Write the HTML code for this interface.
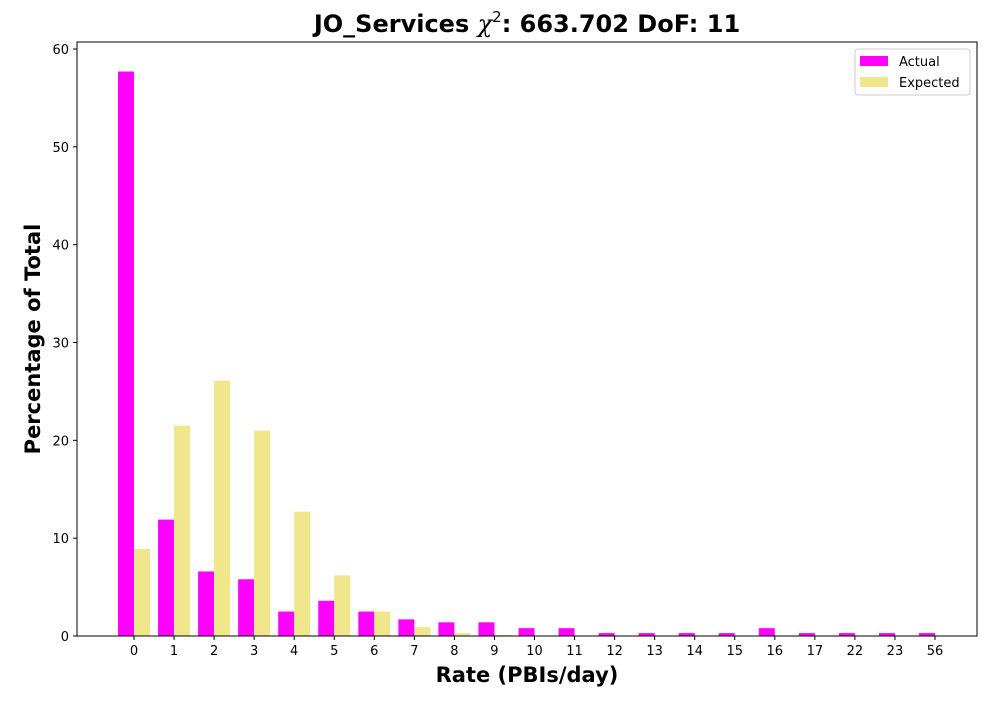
<!DOCTYPE html>
<html><head><meta charset="utf-8"><style>
html,body{margin:0;padding:0;background:#fff;}
svg text{font-family:"DejaVu Sans","Liberation Sans",sans-serif;}
</style></head><body>
<svg id="chart" width="1000" height="700" xmlns="http://www.w3.org/2000/svg">
<rect width="1000" height="700" fill="#fff"/>
<text x="527" y="32" text-anchor="middle" font-size="24" font-weight="bold">JO_Services <tspan font-style="italic" font-weight="normal" font-family="DejaVu Serif,serif">χ</tspan><tspan font-size="15" font-weight="normal" dy="-10">2</tspan><tspan dy="10">: 663.702 DoF: 11</tspan></text>
<g id="bars"></g>
<g id="axes"></g>
<text x="527" y="682" text-anchor="middle" font-size="21" font-weight="bold">Rate (PBIs/day)</text>
<text transform="translate(40,339) rotate(-90)" text-anchor="middle" font-size="21" font-weight="bold">Percentage of Total</text>
<g>
<rect x="855" y="49" width="115" height="46" fill="#fff" stroke="#ccc" rx="3"/>
<rect x="860" y="56" width="28" height="10" fill="#ff00ff"/>
<text x="899" y="66" font-size="13">Actual</text>
<rect x="860" y="77" width="28" height="10" fill="#f0e68c"/>
<text x="899" y="87" font-size="13">Expected</text>
</g>
</svg>
<script>
const categories=["0","1","2","3","4","5","6","7","8","9","10","11","12","13","14","15","16","17","22","23","56"];
const actual=[57.7,11.9,6.6,5.8,2.5,3.6,2.5,1.7,1.4,1.4,0.8,0.8,0.3,0.3,0.3,0.3,0.8,0.3,0.3,0.3,0.3];
const expected=[8.9,21.5,26.1,21.0,12.7,6.2,2.5,0.9,0.3,0.1,0.02,0,0,0,0,0,0,0,0,0,0];
const yTicks=[0,10,20,30,40,50,60];
const NS="http://www.w3.org/2000/svg";
const L=77,R=977,T=42,B=636;
const x=i=>134+i*40.05;
const y=v=>B-v*(587/60);
const bars=document.getElementById('bars'),axes=document.getElementById('axes');
function mk(tag,attrs,parent){const e=document.createElementNS(NS,tag);for(const k in attrs)e.setAttribute(k,attrs[k]);parent.appendChild(e);return e;}
categories.forEach((c,i)=>{
 const a=mk('rect',{x:x(i)-16,y:y(actual[i]),width:16,height:B-y(actual[i]),fill:'#ff00ff'},bars);
 
 
 const e=mk('rect',{x:x(i),y:y(expected[i]),width:16,height:B-y(expected[i]),fill:'#f0e68c'},bars);
 
 
 mk('line',{x1:x(i),x2:x(i),y1:B,y2:B+4,stroke:'#000'},axes);
 const t=mk('text',{x:x(i),y:B+19,'text-anchor':'middle','font-size':13},axes);
 t.textContent=c;
 
 
});
yTicks.forEach(v=>{
 mk('line',{x1:L-4,x2:L,y1:y(v),y2:y(v),stroke:'#000'},axes);
 const t=mk('text',{x:L-8,y:y(v)+5,'text-anchor':'end','font-size':13},axes);
 t.textContent=v;
 
 
});
const f=mk('rect',{x:L,y:T,width:R-L,height:B-T,fill:'none',stroke:'#000','stroke-width':1},axes);


</script>
</body></html>
